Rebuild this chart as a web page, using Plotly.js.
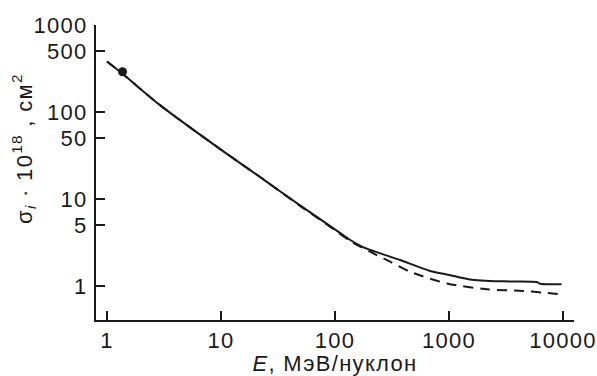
<!DOCTYPE html>
<html>
<head>
<meta charset="utf-8">
<script src="https://cdn.plot.ly/plotly-3.0.1.min.js"></script>
<style>
html,body{margin:0;padding:0;background:#fff;}
#chart{width:597px;height:376px;}
#chart text{letter-spacing:1.3px;}
</style>
</head>
<body>
<div id="chart"></div>
<script>
// Solid curve
const energySolid = [1, 1.37, 2.92, 9.3, 24, 49, 97, 135, 176, 250, 372, 681, 1000, 1528, 2977, 5900, 6300, 9700];
const sigmaSolid  = [380, 275, 120, 39.5, 16.5, 8.5, 4.6, 3.4, 2.8, 2.37, 1.99, 1.49, 1.34, 1.19, 1.13, 1.11, 1.06, 1.05];
// Dashed curve
const energyDashed = [1, 1.37, 2.92, 9.3, 24, 49, 97, 135, 203, 304, 455, 960, 2154, 4460, 6680, 9700];
const sigmaDashed  = [380, 275, 120, 39.5, 16.5, 8.4, 4.5, 3.3, 2.48, 1.90, 1.46, 1.07, 0.916, 0.877, 0.84, 0.80];
// Experimental point
const energyPoint = [1.37];
const sigmaPoint  = [290];

const xTicks = [1, 10, 100, 1000, 10000];
const xTickText = ['1', '10', '100', '1000', '10000'];
const yTicks = [1, 5, 10, 50, 100, 500, 1000];
const yTickText = ['1', '5', '10', '50', '100', '500', '1000'];

const ink = '#1a1a1a';
const fontFam = 'Liberation Sans, Arial, Helvetica, sans-serif';
const fs = 22;

const traces = [
  {x: energyDashed, y: sigmaDashed, mode: 'lines', line: {color: ink, width: 2, dash: '10px,7px', shape: 'spline', smoothing: 0.8}, hoverinfo: 'skip'},
  {x: energySolid, y: sigmaSolid, mode: 'lines', line: {color: ink, width: 2, shape: 'spline', smoothing: 0.8}, hoverinfo: 'skip'},
  {x: energyPoint, y: sigmaPoint, mode: 'markers', marker: {color: ink, size: 9, symbol: 'circle'}, hoverinfo: 'skip'}
];

const layout = {
  width: 597, height: 376,
  margin: {l: 96, r: 23, t: 25, b: 56},
  paper_bgcolor: '#fff', plot_bgcolor: '#fff',
  showlegend: false,
  font: {family: fontFam, size: fs, color: ink},
  xaxis: {
    type: 'log', range: [-0.096, 4.096],
    tickvals: xTicks, ticktext: xTickText,
    ticks: 'inside', ticklen: 9, tickwidth: 2, tickcolor: ink,
    showline: true, linewidth: 2, linecolor: ink,
    showgrid: false, zeroline: false,
    tickfont: {family: fontFam, size: fs, color: ink},
    title: {text: '<i>E</i>, МэВ/нуклон', font: {family: fontFam, size: fs, color: ink}, standoff: 2}
  },
  yaxis: {
    type: 'log', range: [-0.391, 3],
    tickvals: yTicks, ticktext: yTickText,
    ticks: 'inside', ticklen: 9, tickwidth: 2, tickcolor: ink,
    showline: true, linewidth: 2, linecolor: ink,
    showgrid: false, zeroline: false,
    ticklabelstandoff: 2,
    tickfont: {family: fontFam, size: fs, color: ink}
  },
  annotations: [{
    xref: 'paper', yref: 'paper',
    x: -0.15, y: 0.58, xanchor: 'center', yanchor: 'middle',
    textangle: -90, showarrow: false,
    text: 'σ<sub><i>i</i></sub> · 10<sup>18</sup> , см<sup>2</sup>',
    font: {family: fontFam, size: fs, color: ink}
  }]
};

Plotly.newPlot('chart', traces, layout, {staticPlot: true, displayModeBar: false});
</script>
</body>
</html>
